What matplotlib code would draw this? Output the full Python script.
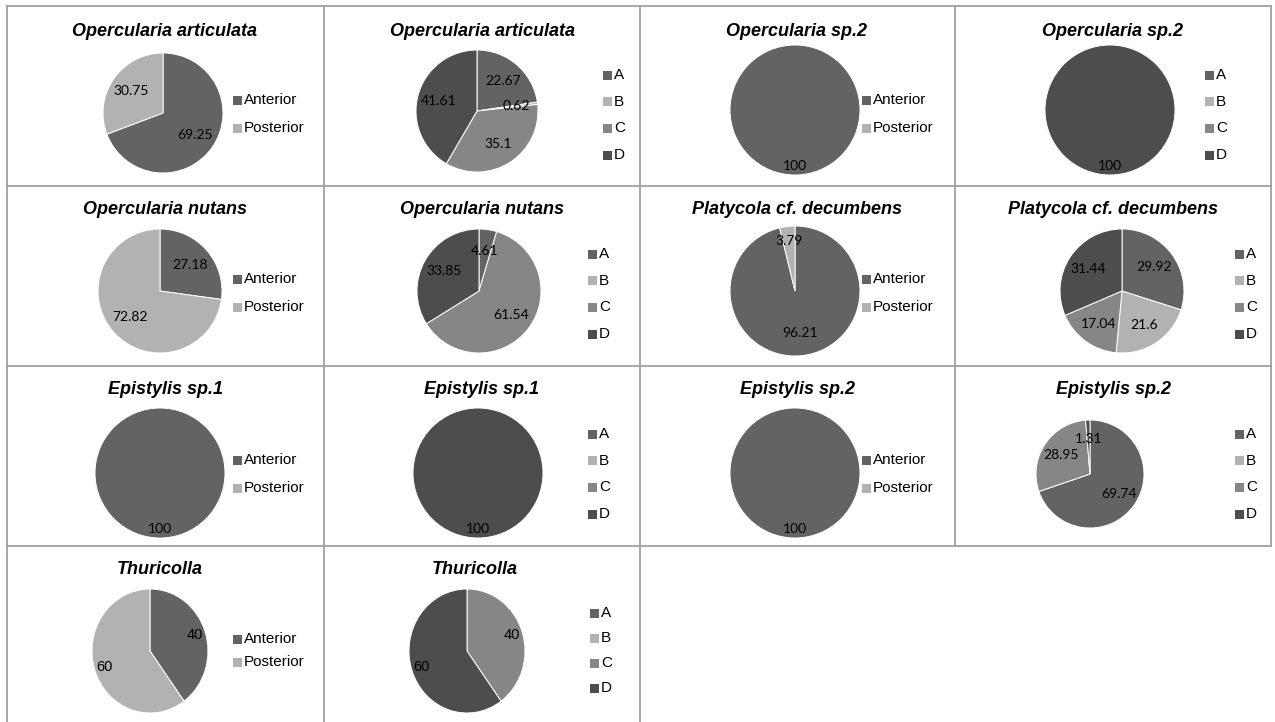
import numpy as np
import matplotlib.pyplot as plt

# categories
position_labels = ["Anterior", "Posterior"]
region_labels = ["A", "B", "C", "D"]
position_colors = ["#636363", "#b2b2b2"]
region_colors = ["#636363", "#b2b2b2", "#868686", "#4d4d4d"]

# values (percent)
op_art_position = [69.25, 30.75]
op_art_region = [22.67, 0.62, 35.1, 41.61]
op_sp2_position = [100, 0]
op_sp2_region = [0, 0, 0, 100]
op_nut_position = [27.18, 72.82]
op_nut_region = [4.61, 0, 61.54, 33.85]
plat_position = [96.21, 3.79]
plat_region = [29.92, 21.6, 17.04, 31.44]
ep1_position = [100, 0]
ep1_region = [0, 0, 0, 100]
ep2_position = [100, 0]
ep2_region = [69.74, 0, 28.95, 1.31]
thur_position = [40, 60]
thur_region = [0, 0, 40, 60]

titles = ["Opercularia articulata", "Opercularia articulata",
          "Opercularia sp.2", "Opercularia sp.2",
          "Opercularia nutans", "Opercularia nutans",
          "Platycola cf. decumbens", "Platycola cf. decumbens",
          "Epistylis sp.1", "Epistylis sp.1",
          "Epistylis sp.2", "Epistylis sp.2",
          "Thuricolla", "Thuricolla"]
panel_values = [op_art_position, op_art_region, op_sp2_position, op_sp2_region,
                op_nut_position, op_nut_region, plat_position, plat_region,
                ep1_position, ep1_region, ep2_position, ep2_region,
                thur_position, thur_region]

# layout in pixels: title x/y, pie centre + radii, legend x, first legend y, legend step
W, H = 1275, 722
layout = [
    (165, 31, 163, 113, 60, 60, 233, 100, 28),
    (482, 31, 477, 111, 61, 61, 603, 75, 26.7),
    (797, 31, 795, 110, 65, 65, 862, 100, 28),
    (1113, 31, 1110, 110, 65, 65, 1205, 75, 26.7),
    (165, 210, 160, 291, 62, 62, 233, 279, 28),
    (482, 210, 479, 291, 62, 62, 588, 254, 26.7),
    (797, 210, 795, 291, 65, 65, 862, 279, 28),
    (1113, 210, 1122, 291, 62, 62, 1235, 254, 26.7),
    (165, 390, 160, 473, 65, 65, 233, 460, 28),
    (482, 390, 478, 473, 65, 65, 588, 434, 26.7),
    (797, 390, 795, 473, 65, 65, 862, 460, 28),
    (1113, 390, 1090, 474, 54, 54, 1235, 434, 26.7),
    (160, 570, 150, 651, 58, 62, 233, 639, 23),
    (475, 570, 467, 651, 58, 62, 590, 613, 25),
]

sans = ["Liberation Sans", "DejaVu Sans"]

fig = plt.figure(figsize=(W / 100, H / 100), dpi=100)
bg = fig.add_axes([0, 0, 1, 1])
bg.set_xlim(0, W)
bg.set_ylim(H, 0)
bg.axis("off")

# panel borders
grid_col = "#a0a0a0"
for y in [6, 186, 366, 546]:
    bg.plot([7, 1271], [y, y], color=grid_col, lw=1.3)
for x in [7, 324, 640]:
    bg.plot([x, x], [6, 722], color=grid_col, lw=1.3)
for x in [955, 1271]:
    bg.plot([x, x], [6, 546], color=grid_col, lw=1.3)

for i, (title, vals) in enumerate(zip(titles, panel_values)):
    tx, ty, cx, cy, rx, ry, lx, ly, lstep = layout[i]
    if len(vals) == 2:
        cats, cols = position_labels, position_colors
    else:
        cats, cols = region_labels, region_colors
    thur = title == "Thuricolla"

    bg.text(tx, ty, title, ha="center", va="center", fontsize=13,
            fontweight="bold", fontstyle="italic", family=sans)

    ax = fig.add_axes([(cx - rx) / W, 1 - (cy + ry) / H, 2 * rx / W, 2 * ry / H])
    keep = [k for k, v in enumerate(vals) if v > 0]
    wedges, _ = ax.pie([vals[k] for k in keep], colors=[cols[k] for k in keep],
                       startangle=90, counterclock=False,
                       wedgeprops=dict(edgecolor="white", linewidth=0.7))
    ax.set_xlim(-1, 1)
    ax.set_ylim(-1, 1)
    ax.set_aspect("auto")
    for w, k in zip(wedges, keep):
        v = vals[k]
        mid = np.deg2rad((w.theta1 + w.theta2) / 2)
        if v >= 99.99:
            d = 0.86
        elif thur:
            d = 0.82
        elif v < 5 and len(vals) == 2:
            d = 0.78
        else:
            d = 0.65
        if thur:
            ax.text(d * np.cos(mid), d * np.sin(mid), f"{v:g}", ha="center",
                    va="center", fontsize=10.5, family=sans)
        else:
            ax.text(d * np.cos(mid), d * np.sin(mid), f"{v:g}", ha="center",
                    va="center", fontsize=10, family="Lato")

    # legend
    for j, (c, col) in enumerate(zip(cats, cols)):
        y = ly + j * lstep
        bg.add_patch(plt.Rectangle((lx, y - 4.5), 9, 9, color=col, lw=0))
        bg.text(lx + 11, y, c, ha="left", va="center", fontsize=11,
                family=sans)

fig.savefig("out.png", dpi=100)
